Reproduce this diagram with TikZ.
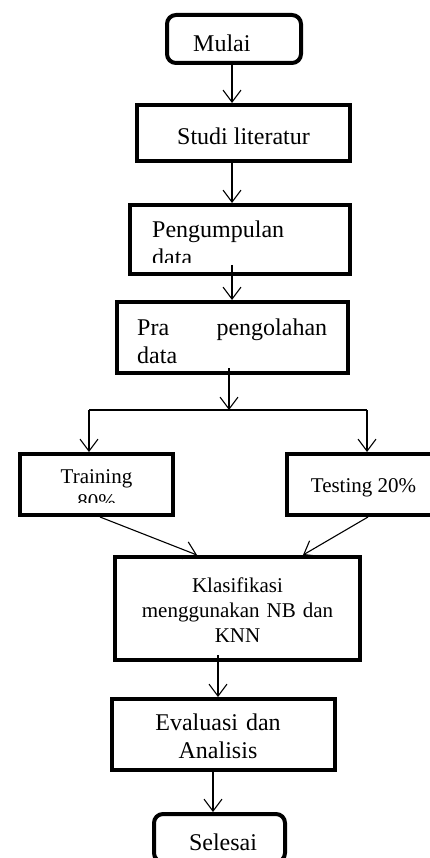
\documentclass[tikz,border=0pt]{standalone}
\usepackage{fontspec}
\setmainfont{Liberation Serif}
\usetikzlibrary{arrows.meta}
\begin{document}
\begin{tikzpicture}[x=1pt, y=-1pt, >={Straight Barb[length=12pt,width=18pt]},
    box/.style={draw, line width=4pt, fill=white, inner sep=0pt},
    terminal/.style={box, rounded corners=9pt},
    big/.style={font=\fontsize{24}{28}\selectfont, inner sep=0pt},
    small/.style={font=\fontsize{21}{25}\selectfont, inner sep=0pt},
    flow/.style={->, line width=1.1pt},
    link/.style={line width=1.1pt}]
    \clip (0,0) rectangle (430,858);

    % boxes
    \node[terminal, minimum width=134pt, minimum height=48pt] (mulai) at (234,39) {};
    \node[box, minimum width=213pt, minimum height=56pt] (studi) at (243.5,133) {};
    \node[box, minimum width=220pt, minimum height=69pt] (peng) at (240,239.5) {};
    \node[box, minimum width=231pt, minimum height=71pt] (pra) at (232.5,337.5) {};
    \node[box, minimum width=153pt, minimum height=61pt] (train) at (96.5,484.5) {};
    \node[box, minimum width=153pt, minimum height=61pt] (test) at (363.5,484.5) {};
    \node[box, minimum width=245pt, minimum height=103pt] (klas) at (237.5,608.5) {};
    \node[box, minimum width=223pt, minimum height=71pt] (eval) at (223.5,734.5) {};
    \node[terminal, minimum width=131pt, minimum height=48pt] (selesai) at (219.5,838) {};

    % texts
    \node[big, anchor=base west] (mulai-txt) at (193,52) {Mulai};
    \node[big, anchor=base] (studi-txt) at (243.5,145) {Studi literatur};
    \begin{scope}
        \clip (130,205) rectangle (350,263);
        \node[big, anchor=base west, text width=190pt, align=left] (peng-txt) at (152,238)
            {Pengumpulan\\data};
    \end{scope}
    \node[big, anchor=base west, text width=190pt, align=left] (pra-txt) at (137,335)
        {Pra\hfill pengolahan\\data};
    \begin{scope}
        \clip (20,454) rectangle (173,502);
        \node[small, anchor=base, text width=150pt, align=center] (train-txt) at (96.5,483)
            {Training\\80\%};
    \end{scope}
    \node[small, anchor=base] (test-txt) at (363.5,492) {Testing 20\%};
    \node[small, anchor=base, text width=240pt, align=center] (klas-txt) at (237.5,592)
        {Klasifikasi\\menggunakan NB dan\\KNN};
    \node[big, anchor=base, text width=220pt, align=center] (eval-txt) at (218,730)
        {Evaluasi dan\\Analisis};
    \node[big, anchor=base] (selesai-txt) at (223,850) {Selesai};

    % connectors
    \coordinate (spine) at (232,0);
    \coordinate (split) at (229,410);
    \coordinate (splitL) at (89,410);
    \coordinate (splitR) at (367,410);
    \coordinate (lower) at (218,0);
    \coordinate (last) at (213,0);

    \draw[flow] (mulai.south -| spine) -- (studi.north -| spine);
    \draw[flow] (studi.south -| spine) -- (peng.north -| spine);
    \draw[flow] (peng.south -| spine) ++(0,-11) -- (pra.north -| spine);
    \draw[flow] (pra.south -| split) ++(0,-7) -- (split);
    \draw[link] (splitL) -- (splitR);
    \draw[flow] (splitL) -- (train.north -| splitL);
    \draw[flow] (splitR) -- (test.north -| splitR);
    \draw[flow] ([xshift=3.5pt]train.south) -- ([xshift=-40.5pt]klas.north);
    \draw[flow] ([xshift=4.5pt]test.south) -- ([xshift=65.5pt]klas.north);
    \draw[flow] (klas.south -| lower) ++(0,-7) -- (eval.north -| lower);
    \draw[flow] (eval.south -| last) -- (selesai.north -| last);
\end{tikzpicture}
\end{document}
